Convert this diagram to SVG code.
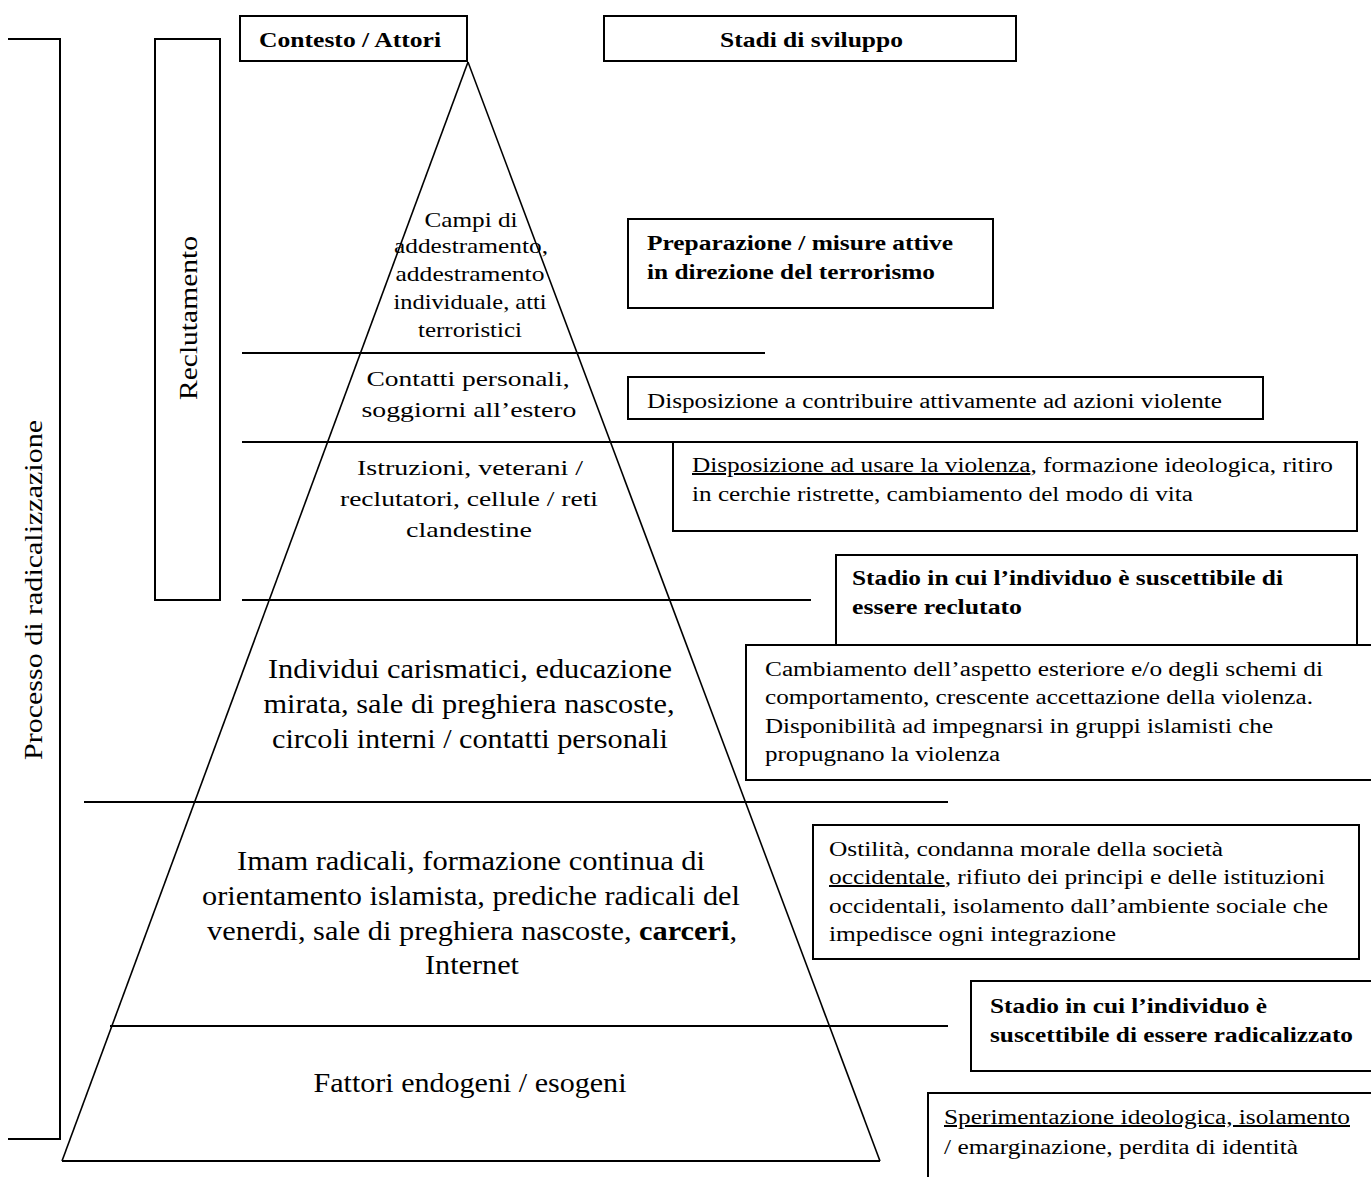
<svg xmlns="http://www.w3.org/2000/svg" width="1371" height="1177" viewBox="0 0 1371 1177" font-family="'Liberation Serif', 'Times New Roman', Times, serif">
<style>
.box{fill:#fff;stroke:#000;stroke-width:2}
.ln{stroke:#000;stroke-width:2;fill:none}
.edge{stroke:#000;stroke-width:1.6;fill:none}
text{font-family:'Liberation Serif','Times New Roman',Times,serif;fill:#000}
.hd{font-size:21px;font-weight:bold}
.py{font-size:22px;text-anchor:middle}
.pyb{font-size:27px;text-anchor:middle}
.rt{font-size:20px}
.rb{font-size:20px;font-weight:bold}
.vt{font-size:26px;text-anchor:middle}
.u{text-decoration:underline}
</style>
<rect width="1371" height="1177" fill="#fff"/>

<g id="bracket-processo">
<polyline class="ln" points="8,39 60,39 60,1139 8,1139"/>
<text class="vt" transform="translate(42,590) rotate(-90)" textLength="340" lengthAdjust="spacingAndGlyphs">Processo di radicalizzazione</text>
</g>

<g id="reclutamento">
<rect class="box" x="155" y="39" width="65" height="561"/>
<text class="vt" transform="translate(197,318) rotate(-90)" textLength="164" lengthAdjust="spacingAndGlyphs">Reclutamento</text>
</g>

<g id="header-contesto">
<rect class="box" x="240" y="16" width="227" height="45"/>
<text class="hd" x="259" y="47" textLength="182" lengthAdjust="spacingAndGlyphs">Contesto / Attori</text>
</g>
<g id="header-stadi">
<rect class="box" x="604" y="16" width="412" height="45"/>
<text class="hd" x="720" y="47" textLength="183" lengthAdjust="spacingAndGlyphs">Stadi di sviluppo</text>
</g>

<g id="connectors">
<line class="edge" x1="468" y1="62" x2="62" y2="1161"/>
<line class="edge" x1="468" y1="62" x2="880" y2="1161"/>
<line class="ln" x1="62" y1="1161" x2="880" y2="1161"/>
<line class="ln" x1="242" y1="353" x2="765" y2="353"/>
<line class="ln" x1="242" y1="442" x2="673" y2="442"/>
<line class="ln" x1="242" y1="600" x2="811" y2="600"/>
<line class="ln" x1="84" y1="802" x2="948" y2="802"/>
<line class="ln" x1="110" y1="1026" x2="948" y2="1026"/>
</g>

<g id="level-campi">
<text class="py" x="471" y="227" textLength="93" lengthAdjust="spacingAndGlyphs">Campi di</text>
<text class="py" x="471" y="253" textLength="154" lengthAdjust="spacingAndGlyphs">addestramento,</text>
<text class="py" x="470" y="281" textLength="149" lengthAdjust="spacingAndGlyphs">addestramento</text>
<text class="py" x="470" y="309" textLength="153" lengthAdjust="spacingAndGlyphs">individuale, atti</text>
<text class="py" x="470" y="337" textLength="104" lengthAdjust="spacingAndGlyphs">terroristici</text>
</g>
<g id="level-contatti">
<text class="py" x="468" y="386" textLength="203" lengthAdjust="spacingAndGlyphs">Contatti personali,</text>
<text class="py" x="469" y="417" textLength="215" lengthAdjust="spacingAndGlyphs">soggiorni all’estero</text>
</g>
<g id="level-istruzioni">
<text class="py" x="470" y="475" textLength="226" lengthAdjust="spacingAndGlyphs">Istruzioni, veterani /</text>
<text class="py" x="469" y="506" textLength="258" lengthAdjust="spacingAndGlyphs">reclutatori, cellule / reti</text>
<text class="py" x="469" y="537" textLength="126" lengthAdjust="spacingAndGlyphs">clandestine</text>
</g>
<g id="level-individui">
<text class="pyb" x="470" y="678" textLength="404" lengthAdjust="spacingAndGlyphs">Individui carismatici, educazione</text>
<text class="pyb" x="469" y="713" textLength="411" lengthAdjust="spacingAndGlyphs">mirata, sale di preghiera nascoste,</text>
<text class="pyb" x="470" y="748" textLength="396" lengthAdjust="spacingAndGlyphs">circoli interni / contatti personali</text>
</g>
<g id="level-imam">
<text class="pyb" x="471" y="870" textLength="468" lengthAdjust="spacingAndGlyphs">Imam radicali, formazione continua di</text>
<text class="pyb" x="471" y="905" textLength="538" lengthAdjust="spacingAndGlyphs">orientamento islamista, prediche radicali del</text>
<text class="pyb" x="472" y="940" textLength="530" lengthAdjust="spacingAndGlyphs">venerdi, sale di preghiera nascoste, <tspan font-weight="bold">carceri</tspan>,</text>
<text class="pyb" x="472" y="974" textLength="94" lengthAdjust="spacingAndGlyphs">Internet</text>
</g>
<g id="level-fattori">
<text class="pyb" x="470" y="1092" textLength="313" lengthAdjust="spacingAndGlyphs">Fattori endogeni / esogeni</text>
</g>

<g id="stage-preparazione">
<rect class="box" x="628" y="219" width="365" height="89"/>
<text class="rb" x="647" y="250" textLength="306" lengthAdjust="spacingAndGlyphs">Preparazione / misure attive</text>
<text class="rb" x="647" y="279" textLength="288" lengthAdjust="spacingAndGlyphs">in direzione del terrorismo</text>
</g>
<g id="stage-contribuire">
<rect class="box" x="628" y="377" width="635" height="42"/>
<text class="rt" x="647" y="408" textLength="575" lengthAdjust="spacingAndGlyphs">Disposizione a contribuire attivamente ad azioni violente</text>
</g>
<g id="stage-usare">
<rect class="box" x="673" y="442" width="684" height="89"/>
<text class="rt" x="692" y="472" textLength="641" lengthAdjust="spacingAndGlyphs"><tspan class="u">Disposizione ad usare la violenza</tspan>, formazione ideologica, ritiro</text>
<text class="rt" x="692" y="501" textLength="501" lengthAdjust="spacingAndGlyphs">in cerchie ristrette, cambiamento del modo di vita</text>
</g>
<g id="stage-reclutato">
<rect class="box" x="836" y="555" width="521" height="90"/>
<text class="rb" x="852" y="585" textLength="431" lengthAdjust="spacingAndGlyphs">Stadio in cui l’individuo è suscettibile di</text>
<text class="rb" x="852" y="614" textLength="170" lengthAdjust="spacingAndGlyphs">essere reclutato</text>
</g>
<g id="stage-cambiamento">
<rect class="box" x="746" y="645" width="640" height="135"/>
<text class="rt" x="765" y="676" textLength="558" lengthAdjust="spacingAndGlyphs">Cambiamento dell’aspetto esteriore e/o degli schemi di</text>
<text class="rt" x="765" y="704" textLength="548" lengthAdjust="spacingAndGlyphs">comportamento, crescente accettazione della violenza.</text>
<text class="rt" x="765" y="733" textLength="508" lengthAdjust="spacingAndGlyphs">Disponibilità ad impegnarsi in gruppi islamisti che</text>
<text class="rt" x="765" y="761" textLength="235" lengthAdjust="spacingAndGlyphs">propugnano la violenza</text>
</g>
<g id="stage-ostilita">
<rect class="box" x="813" y="825" width="546" height="134"/>
<text class="rt" x="829" y="856" textLength="394" lengthAdjust="spacingAndGlyphs">Ostilità, condanna morale della società</text>
<text class="rt" x="829" y="884" textLength="496" lengthAdjust="spacingAndGlyphs"><tspan class="u">occidentale</tspan>, rifiuto dei principi e delle istituzioni</text>
<text class="rt" x="829" y="913" textLength="499" lengthAdjust="spacingAndGlyphs">occidentali, isolamento dall’ambiente sociale che</text>
<text class="rt" x="829" y="941" textLength="287" lengthAdjust="spacingAndGlyphs">impedisce ogni integrazione</text>
</g>
<g id="stage-radicalizzato">
<rect class="box" x="971" y="981" width="415" height="90"/>
<text class="rb" x="990" y="1013" textLength="277" lengthAdjust="spacingAndGlyphs">Stadio in cui l’individuo è</text>
<text class="rb" x="990" y="1042" textLength="363" lengthAdjust="spacingAndGlyphs">suscettibile di essere radicalizzato</text>
</g>
<g id="stage-sperimentazione">
<rect class="box" x="928" y="1093" width="460" height="100"/>
<text class="rt" x="944" y="1124" textLength="406" lengthAdjust="spacingAndGlyphs"><tspan class="u">Sperimentazione ideologica, isolamento</tspan></text>
<text class="rt" x="944" y="1154" textLength="354" lengthAdjust="spacingAndGlyphs">/ emarginazione, perdita di identità</text>
</g>
</svg>
